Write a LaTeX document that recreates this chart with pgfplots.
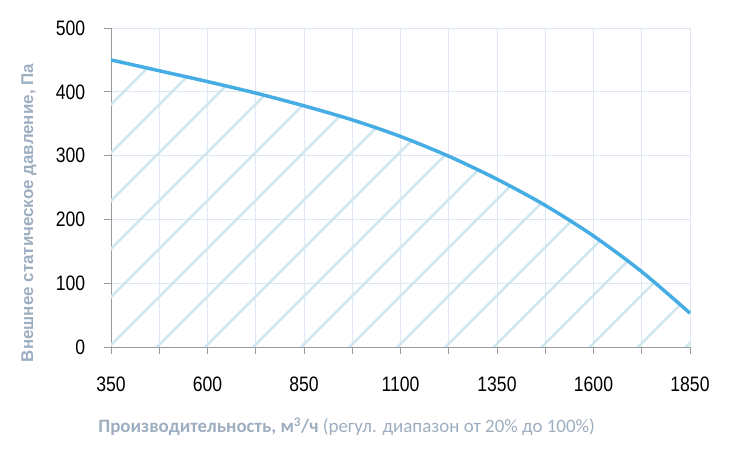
\documentclass[border=0pt]{standalone}
\usepackage{fontspec}
\setmainfont{Liberation Sans}
\newfontfamily\narrowfont{Liberation Sans}[FakeStretch=0.84]
\newfontfamily\calfont{Carlito}
\usepackage{pgfplots}
\pgfplotsset{compat=1.18}
\usetikzlibrary{patterns.meta}
\definecolor{curve}{HTML}{45ADE3}
\definecolor{hatch}{HTML}{D0E7F0}
\definecolor{gridc}{HTML}{DDE8F4}
\definecolor{labc}{HTML}{9DAEC0}
\definecolor{axc}{HTML}{9A9A9A}
\begin{document}
\begin{tikzpicture}
\begin{axis}[
  scale only axis,
  width=579bp, height=319bp,
  xmin=350, xmax=1850, ymin=0, ymax=500,
  xtick={350,600,...,1850},
  minor xtick={475,725,...,1725},
  ytick={0,100,...,500},
  grid=both,
  major grid style={gridc, line width=0.8bp},
  minor grid style={gridc, line width=0.8bp},
  axis x line*=bottom, axis y line*=left,
  axis line style={axc, line width=0.8bp},
  x axis line style={-},
  y axis line style={-},
  tick style={axc, line width=0.8bp},
  tick align=outside,
  major tick length=7bp, minor tick length=7bp,
  ticklabel style={font=\narrowfont\fontsize{21}{21}\selectfont, text=black, inner sep=0pt},
  xticklabel style={anchor=center, yshift=-30bp},
  yticklabel style={anchor=east, xshift=-18.7bp},
  /pgf/number format/assume math mode=true,
  /pgf/number format/set thousands separator={},
  clip=false,
]
\addplot[draw=none, pattern={Lines[angle=45,distance=34bp,line width=2.6bp]}, pattern color=hatch, smooth]
  coordinates {(350,450) (475,433) (600,416) (725,398) (850,378) (975,356) (1100,330) (1225,299) (1350,263) (1475,222) (1600,174) (1725,118) (1850,53)} \closedcycle;
\addplot[curve, line width=3.5bp, smooth]
  coordinates {(350,450) (475,433) (600,416) (725,398) (850,378) (975,356) (1100,330) (1225,299) (1350,263) (1475,222) (1600,174) (1725,118) (1850,53)};
\node[xshift=-82bp, rotate=90, text=labc, font=\bfseries\fontsize{17}{17}\selectfont] at (rel axis cs:0,0.42) {Внешнее статическое давление, Па};
\node[yshift=-80bp, text=labc, font=\calfont\fontsize{19}{19}\selectfont] at (rel axis cs:0.407,0) {\textbf{Производительность, м\textsuperscript{3}/ч} (регул. диапазон от 20\% до 100\%)};
\end{axis}
\pgfresetboundingbox
\path (current axis.south west) ++(-111bp,-109bp) rectangle ++(730bp,456bp);
\end{tikzpicture}
\end{document}
